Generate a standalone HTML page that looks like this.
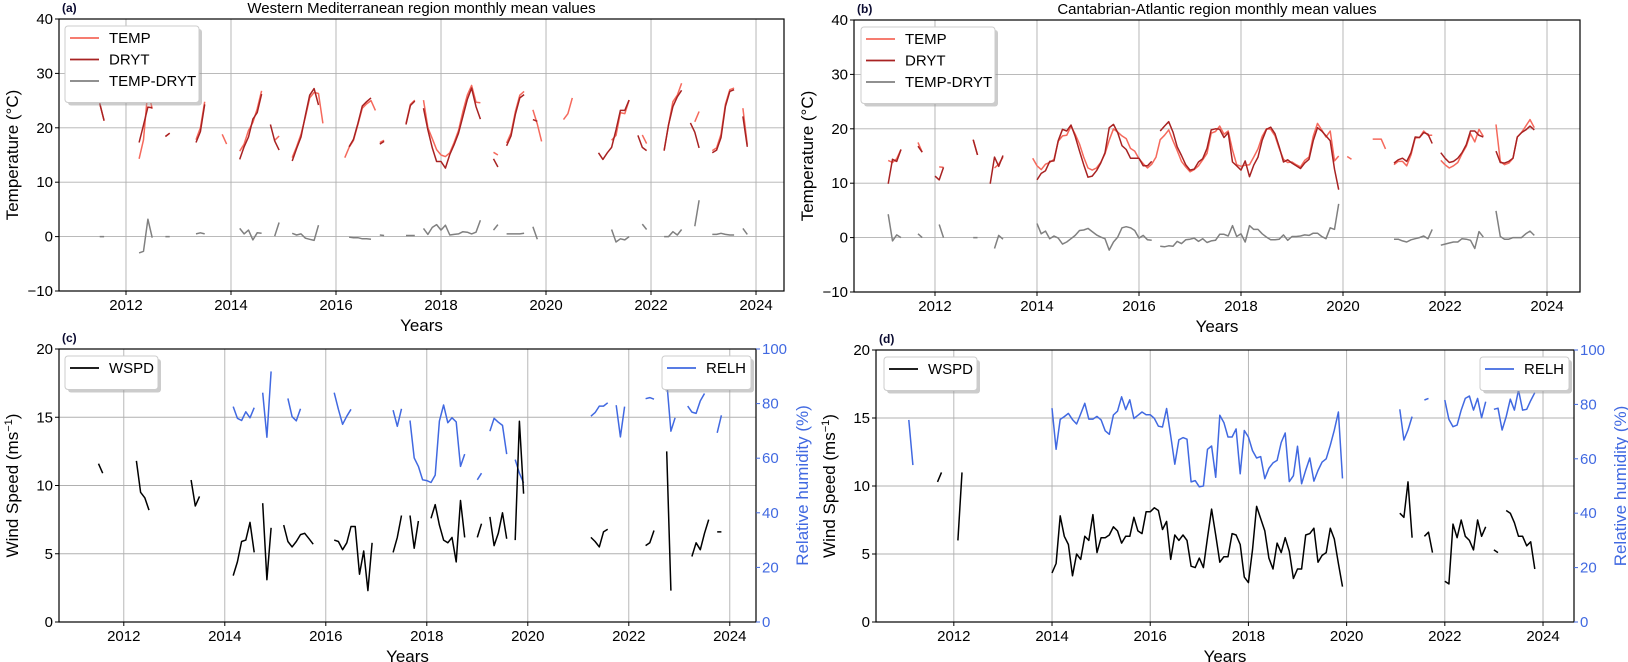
<!DOCTYPE html>
<html><head><meta charset="utf-8"><style>
html,body{margin:0;padding:0;background:#fff;}
svg{display:block;font-family:"Liberation Sans",Arial,sans-serif;}
</style></head><body>
<svg id="chart" width="1628" height="662" viewBox="0 0 1628 662" xmlns="http://www.w3.org/2000/svg"></svg>
<script>
// ---- Panel (a) Western Mediterranean: [year, month, values] segments ----
const aTemp = [
 [2011,7,[24.5,21.3]],[2012,4,[14.3,17.8,27,23.5]],[2012,10,[18.4,19.0]],[2013,5,[17.8,20,24.8]],
 [2013,11,[18.8,17.0]],[2014,3,[15.7,17,19.5,21,23.5,26.8]],[2014,11,[17.7,18.5]],
 [2015,3,[14.5,16.5,18.8,22,25.5,26.5,26.3,20.8]],[2016,3,[14.5,16.4,17.7,20.6,23.6,24.4,25.0,23.2]],
 [2016,11,[17.3,17.7]],[2017,5,[20.8,24.3,25.1]],
 [2017,9,[25.1,20.0,18.0,16.0,15.0,14.7,15.4,17.3,19.5,23,26,27.8,24.7,24.6]],
 [2019,1,[15.5,15.0]],[2019,4,[17.2,19,23,26,26.7]],[2019,10,[23.3,20.7,17.5]],
 [2020,5,[21.5,22.6,25.5]],[2021,4,[17.7,18.6,22.8,22.6,25.1]],[2021,11,[18.7,17.1]],
 [2022,4,[15.8,20.5,24.8,26,28.2]],[2022,11,[21.1,23]],[2023,3,[15.8,16.3,18.8,24.3,27,27.3]],[2023,10,[23.6,16.9]]
];
const aDryt = [
 [2011,7,[24.5,21.3]],[2012,4,[17.3,20.5,23.8,23.7]],[2012,10,[18.4,19.0]],[2013,5,[17.3,19.3,24.3]],
 [2014,3,[14.2,16.5,18.3,21.6,22.8,26.2]],[2014,10,[20.6,17.6,15.9]],
 [2015,3,[13.9,16.2,18.3,22.3,26.0,27.2,24.2]],[2016,4,[16.5,17.9,20.8,24.0,24.8,25.5]],
 [2016,11,[17.0,17.5]],[2017,5,[20.6,24.1,24.9]],
 [2017,9,[23.6,19.6,16.3,13.8,13.8,12.6,15.1,16.9,19.0,22.1,25.2,27.3,23.9,21.6]],
 [2019,1,[14.3,12.8]],[2019,4,[16.7,18.5,22.5,25.5,26.1]],[2019,10,[21.5,21.2]],
 [2021,1,[15.4,14.2,15.4,16.4,19.6,23.2,23.2,25.1]],[2021,10,[18.6,16.4,15.8]],
 [2022,4,[15.8,20.5,23.9,25.7,26.9]],[2022,10,[20.9,19.2,16.3]],
 [2023,3,[15.4,15.9,18.2,23.9,26.7,27.0]],[2023,10,[22.1,16.5]]
];
// ---- Panel (b) Cantabrian-Atlantic ----
const bTemp = [
 [2011,2,[14.2,13.8,14.5,16.2]],[2011,9,[17.5,15.7]],[2012,2,[13.0,12.9]],[2012,10,[18.0,15.2]],
 [2013,3,[12.8,13.5,14.8]],
 [2013,12,[14.6,13.2,12.5,13.5,13.8,14.4,17.7,18.7,18.8,20.5,19,17.2,14.8,12.8,12.4,12.8,13.8,15.4,17.9,20,19.4,18.7,18.2,16.4,15.9,14.5,13.6,12.8,13.5,14.8,18.0,18.8,19.8,
  17.8,16.0,14.0,13.0,12.1,12.5,13.2,14.3,15.5,19.2,19.5,20.5,19.0,19.6,16.1,13.4,13.1,13.3,13.4,14.8,16.3,18.6,20.0,19.9,18.7,16.4,14.4,13.8,13.9,13.4,13.0,14.2,14.8,18.6,21.0,19.8,18.5,19.6,14.1,15.0]],
 [2020,2,[14.9,14.4]],[2020,8,[18.1,18.1,18.1,16.3]],
 [2021,1,[13.4,14.0,14.0,13.2,15.2,18.3,18.4,19.6,18.8,18.8]],
 [2021,12,[14.2,13.4,12.8,13.2,13.8,15.4,16.8,19.1,17.6,19.9,18.6]],
 [2023,1,[20.8,14.0,13.4,13.7,14.6,18.5,19.3,20.5,21.7,20.2]]
];
const bDryt = [
 [2011,2,[9.9,14.4,14.0,16.2]],[2011,9,[16.8,15.7]],[2012,1,[11.3,10.6,12.9]],[2012,10,[18.0,15.2]],
 [2013,2,[9.9,14.8,13.1,15.1]],
 [2014,1,[10.6,11.8,12.3,14.0,14.1,17.8,19.9,19.6,20.7,18.6,15.9,13.4,11.1,11.3,12.3,13.7,15.6,20.2,20.8,19.3,16.9,16.2,14.6,14.6,14.6,13.2,13.2,14.0]],
 [2016,6,[19.6,20.5,21.3,19.4,16.7,15.1,13.4,12.4,12.6,13.9,14.5,16.4,19.8,20,19.9,18.4,19.3,13.9,13.2,12.4,14.1,11.2,13.3,14.8,17.9,19.9,20.3,19.1,16.7,13.9,14.3,13.7,13.2,12.7,13.7,14.4,17.8,20.2,19.6,18.7,17.8,12.6,8.8]],
 [2021,1,[13.7,14.3,14.6,14.0,15.6,18.5,18.4,19.3,19.0,17.3]],
 [2021,12,[15.6,14.6,13.8,14.0,14.6,15.6,17.1,19.6,19.6,18.8,18.5]],
 [2023,1,[15.9,13.8,13.7,14.0,14.6,18.5,19.3,19.8,20.5,19.8]]
];
// ---- Panel (c) ----
const cWspd = [
 [2011,7,[11.6,10.9]],[2012,4,[11.8,9.5,9.1,8.2]],[2013,5,[10.4,8.5,9.2]],
 [2014,3,[3.4,4.4,5.9,6.0,7.3,5.1]],[2014,10,[8.7,3.1,6.9]],
 [2015,3,[7.1,5.9,5.5,5.9,6.4,6.5,6.1,5.7]],[2016,3,[6.0,5.9,5.3,5.8,7.0,7.0,3.5,5.2,2.3,5.8]],
 [2017,5,[5.1,6.2,7.8]],[2017,9,[7.8,5.4,7.4]],[2018,2,[7.6,8.6,7.1,6.0,5.8,6.2,4.4,8.9,6.2]],
 [2019,1,[6.2,7.2]],[2019,4,[7.7,5.6,6.5,8.0,6.1]],[2019,10,[6.0,14.7,9.4]],
 [2021,4,[6.2,5.9,5.5,6.6,6.8]],[2022,5,[5.6,5.8,6.7]],[2022,10,[12.5,2.3]],
 [2023,4,[4.8,5.8,5.3,6.5,7.5]],[2023,10,[6.6,6.6]]
];
const cRelh = [
 [2014,3,[78.9,74.6,73.8,77.0,74.8,78.5]],[2014,10,[84.0,67.7,91.8]],[2015,4,[81.9,75.2,73.7,78.1]],
 [2016,3,[84.0,77.9,72.4,75.4,77.9]],[2017,5,[77.6,71.7,78.1]],
 [2017,9,[73.8,60.1,57.0,52.1,51.8,51.1,53.8,73.6,79.5,73.0,74.8,73.3,57.0,61.5]],
 [2019,1,[52.1,54.5]],[2019,4,[69.9,74.6,73.2,72.0,61.5]],[2019,10,[59.5,54.5,50.9]],
 [2021,4,[75.4,76.7,79.1,79.1,80.3]],[2021,10,[79.4,67.8,78.9]],[2022,5,[81.8,82.2,81.6]],
 [2022,10,[88.3,69.9,74.8]],[2023,3,[79.1,76.9,76.4,81.0,83.7]],[2023,10,[69.3,75.7]]
];
// ---- Panel (d) ----
const dWspd = [
 [2011,9,[10.3,11.0]],[2012,2,[6.0,11.0]],
 [2014,1,[3.6,4.3,7.8,6.3,5.7,3.4,5.0,4.6,6.3,6.0,7.9,5.1,6.2,6.2,6.4,7.0,6.7,5.8,6.3,6.3,7.7,6.7,6.5,8.1,8.1,8.4,8.2,6.8,7.4,4.6,6.4,6.0,6.4,6.0,4.1,4.0,4.7,4.0,6.2,8.3,6.4,4.4,4.8,4.8,6.5,6.4,5.7,3.3,2.9,5.3,8.5,7.6,6.7,4.7,3.9,5.8,5.1,6.2,5.2,3.2,3.9,3.9,6.4,6.5,6.9,4.4,4.9,5.1,6.9,6.1,4.3,2.6]],
 [2021,2,[8.0,7.7,10.3,6.2]],[2021,8,[6.3,6.6,5.1]],
 [2022,1,[3.0,2.8,7.2,6.2,7.5,6.3,6.0,5.3,7.5,6.3,7.0]],[2023,1,[5.3,5.1]],
 [2023,4,[8.2,8.0,7.3,6.3,6.3,5.6,5.9,3.9]]
];
const dRelh = [
 [2011,2,[74.3,57.7]],
 [2014,1,[78.6,63.5,74.5,75.5,76.7,74.4,72.8,76.5,80.4,74.6,74.6,75.6,74.3,70.3,69,76.1,77.5,82.8,78.1,81.7,74.8,76,77.2,76.2,76.2,74.9,72,71.7,78.5,68.5,58,67,67.8,67.2,51.5,52,49.7,50,63.5,64.7,53.2,76,73.3,68,68,71,54.5,70.4,68,63,60.3,60.8,52.7,56.5,58.5,59.4,66,69.5,51.6,53.8,64.6,50.8,55.8,60.3,51.8,55.7,58.8,60,65,70.5,77.2,52.8]],
 [2021,2,[78.2,66.9,70.6,75.5]],[2021,8,[81.6,82.2]],
 [2022,1,[81.6,74.5,71.8,72.4,77.9,82.2,83.1,77.9,82.2,75.1,81.0]],
 [2023,1,[78.2,78.6,70.6,75.5,81.9,77.9,85.3,77.9,78.2,81.4,84.3]]
];
const yearTicks = [2012,2014,2016,2018,2020,2022,2024];
const tempTicks = [-10,0,10,20,30,40];
const wspdTicks = [0,5,10,15,20];
const relhTicks = [0,20,40,60,80,100];

const NS = 'http://www.w3.org/2000/svg';
const svg = document.getElementById('chart');
function el(tag, attrs, parent, text){
  const e = document.createElementNS(NS, tag);
  for (const k in attrs) e.setAttribute(k, attrs[k]);
  if (text !== undefined) e.textContent = text;
  (parent || svg).appendChild(e);
  return e;
}
const C = {temp:'#f5695c', dryt:'#a82222', diff:'#808080', wspd:'#000000', relh:'#4169e1'};

function toMap(segs){
  const m = new Map();
  segs.forEach(s => s[2].forEach((v,i) => { m.set((s[0]-2011)*12 + (s[1]-1) + i, v); }));
  return m;
}
function diffSegs(t, d){
  const mt = toMap(t), md = toMap(d);
  const keys = [...mt.keys()].filter(k => md.has(k)).sort((a,b)=>a-b);
  const out = []; let cur = null, last = -99;
  keys.forEach(k => {
    const v = +(mt.get(k) - md.get(k)).toFixed(2);
    if (k !== last + 1) { cur = [2011 + Math.floor(k/12), (k%12)+1, []]; out.push(cur); }
    cur[2].push(v); last = k;
  });
  return out;
}

function makePanel(p){
  const g = el('g', {}, svg);
  
  
  const X = yr => p.x0 + (yr - p.xmin) / (p.xmax - p.xmin) * (p.x1 - p.x0);
  const Y = v => p.y1 - (v - p.ymin) / (p.ymax - p.ymin) * (p.y1 - p.y0);
  const Y2 = v => p.y1 - (v - p.y2min) / (p.y2max - p.y2min) * (p.y1 - p.y0);
  // grid
  const grid = el('g', {stroke:'#b0b0b0','stroke-width':0.9}, g);
  
  
  yearTicks.forEach(t => { const x = X(t); el('line',{x1:x,x2:x,y1:p.y0,y2:p.y1},grid); });
  p.yticks.forEach(t => { const y = Y(t); el('line',{x1:p.x0,x2:p.x1,y1:y,y2:y},grid); });
  // series
  p.series.forEach(s => {
    const fn = s.right ? Y2 : Y;
    let d = '';
    s.segs.forEach(seg => {
      seg[2].forEach((v,i) => {
        const yr = seg[0] + (seg[1]-1+i)/12;
        d += (i===0?'M':'L') + X(yr).toFixed(1) + ',' + fn(v).toFixed(1);
      });
    });
    const path = el('path', {d:d, fill:'none', stroke:s.color, 'stroke-width':1.5, 'stroke-linejoin':'round'}, g);
    
    
  });
  // frame
  const frame = el('rect', {x:p.x0,y:p.y0,width:p.x1-p.x0,height:p.y1-p.y0,fill:'none',stroke:'#000','stroke-width':1.2}, g);
  
  
  // x ticks
  yearTicks.forEach(t => {
    const x = X(t);
    el('line',{x1:x,x2:x,y1:p.y1,y2:p.y1+4,stroke:'#000'},g);
    const tx = el('text',{x:x,y:p.y1+19,'text-anchor':'middle','font-size':15,fill:'#000'},g,String(t));
    
    
  });
  // y ticks
  p.yticks.forEach(t => {
    const y = Y(t);
    el('line',{x1:p.x0-4,x2:p.x0,y1:y,y2:y,stroke:'#000'},g);
    const tx = el('text',{x:p.x0-6,y:y+5,'text-anchor':'end','font-size':15,fill:'#000'},g,String(t).replace('-','\u2212'));
    
    
  });
  if (p.y2ticks){
    p.y2ticks.forEach(t => {
      const y = Y2(t);
      el('line',{x1:p.x1,x2:p.x1+4,y1:y,y2:y,stroke:C.relh},g);
      const tx = el('text',{x:p.x1+6,y:y+5,'text-anchor':'start','font-size':15,fill:C.relh},g,String(t));
      
      
    });
    const yl2 = el('text',{x:0,y:0,'text-anchor':'middle','font-size':17,fill:C.relh,transform:`translate(${p.x1+52},${(p.y0+p.y1)/2}) rotate(-90)`},g,'Relative humidity (%)');
    
    
  }
  // axis titles
  const xl = el('text',{x:(p.x0+p.x1)/2,y:p.y1+40,'text-anchor':'middle','font-size':17,fill:'#000'},g,'Years');
  
  
  const yl = el('text',{x:0,y:0,'text-anchor':'middle','font-size':17,fill:'#000',transform:`translate(${p.x0-41},${(p.y0+p.y1)/2}) rotate(-90)`},g);
  
  
  if (p.ylabelSup){
    yl.textContent = p.ylabel;
    el('tspan',{dy:-6,'font-size':11},yl,p.ylabelSup);
    el('tspan',{dy:6},yl,')');
  } else yl.textContent = p.ylabel;
  const tag = el('text',{x:p.x0+3,y:p.y0-7,'font-size':12,'font-weight':'bold',fill:'#0a0a30'},g,p.tag);
  
  
  if (p.title){
    const ti = el('text',{x:(p.x0+p.x1)/2,y:p.y0-6,'text-anchor':'middle','font-size':15,fill:'#000'},g,p.title);
    
    
  }
  // legends
  p.legends.forEach(L => {
    const lg = el('g',{},g);
    
    
    const h = 12 + L.items.length*21.5;
    el('rect',{x:L.x+3,y:L.y+3,width:L.w,height:h,rx:3,fill:'#999',opacity:0.5},lg);
    el('rect',{x:L.x,y:L.y,width:L.w,height:h,rx:3,fill:'#fff',stroke:'#ccc'},lg);
    L.items.forEach((it,i) => {
      const yy = L.y + 12 + i*21.5;
      el('line',{x1:L.x+5,x2:L.x+34,y1:yy,y2:yy,stroke:it.color,'stroke-width':1.8},lg);
      const tx = el('text',{x:L.x+44,y:yy+5,'font-size':15,fill:'#000'},lg,it.label);
      
      
    });
  });
}

const tempItems = [{label:'TEMP',color:C.temp},{label:'DRYT',color:C.dryt},{label:'TEMP-DRYT',color:C.diff}];
makePanel({name:'panel-a',tag:'(a)',title:'Western Mediterranean region monthly mean values',
  x0:59,x1:784,y0:19,y1:291,xmin:2010.724,xmax:2024.533,ymin:-10,ymax:40,yticks:tempTicks,
  ylabel:'Temperature (°C)',
  series:[{id:'a-temp',segs:aTemp,color:C.temp},{id:'a-dryt',segs:aDryt,color:C.dryt},{id:'a-temp-dryt',segs:diffSegs(aTemp,aDryt),color:C.diff}],
  legends:[{x:65,y:26,w:134,items:tempItems}]});
makePanel({name:'panel-b',tag:'(b)',title:'Cantabrian-Atlantic region monthly mean values',
  x0:854,x1:1580,y0:20,y1:292,xmin:2010.412,xmax:2024.647,ymin:-10,ymax:40,yticks:tempTicks,
  ylabel:'Temperature (°C)',
  series:[{id:'b-temp',segs:bTemp,color:C.temp},{id:'b-dryt',segs:bDryt,color:C.dryt},{id:'b-temp-dryt',segs:diffSegs(bTemp,bDryt),color:C.diff}],
  legends:[{x:861,y:27,w:134,items:tempItems}]});
makePanel({name:'panel-c',tag:'(c)',
  x0:59,x1:756,y0:349,y1:622,xmin:2010.717,xmax:2024.519,ymin:0,ymax:20,yticks:wspdTicks,
  y2min:0,y2max:100,y2ticks:relhTicks,ylabel:'Wind Speed (ms',ylabelSup:'\u22121',
  series:[{id:'c-relh',segs:cRelh,color:C.relh,right:true},{id:'c-wspd',segs:cWspd,color:C.wspd}],
  legends:[{x:65,y:356,w:93,items:[{label:'WSPD',color:C.wspd}]},{x:662,y:356,w:89,items:[{label:'RELH',color:C.relh}]}]});
makePanel({name:'panel-d',tag:'(d)',
  x0:876,x1:1574,y0:350,y1:622,xmin:2010.415,xmax:2024.631,ymin:0,ymax:20,yticks:wspdTicks,
  y2min:0,y2max:100,y2ticks:relhTicks,ylabel:'Wind Speed (ms',ylabelSup:'\u22121',
  series:[{id:'d-relh',segs:dRelh,color:C.relh,right:true},{id:'d-wspd',segs:dWspd,color:C.wspd}],
  legends:[{x:884,y:357,w:93,items:[{label:'WSPD',color:C.wspd}]},{x:1480,y:357,w:89,items:[{label:'RELH',color:C.relh}]}]});
</script>
</body></html>
